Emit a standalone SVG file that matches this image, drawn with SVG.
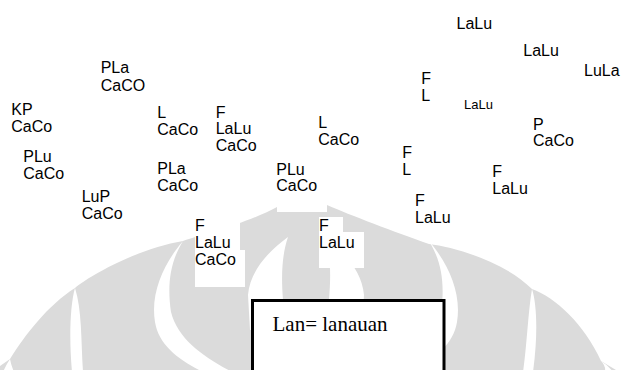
<svg xmlns="http://www.w3.org/2000/svg" width="621" height="370" viewBox="0 0 621 370">
  <style>
    .lbl { font-family: "Liberation Sans", Arial, sans-serif; font-size: 16px; fill: #000; }
    .sm { font-size: 13px; }
    .wm { fill: #dbdbdb; }
    .gap { fill: #fff; }
    .pad { fill: #fff; }
    .legend { fill: #fff; stroke: #000; stroke-width: 3; }
    .legend-txt { font-family: "Liberation Serif", "Times New Roman", serif; font-size: 21px; fill: #000; }
  </style>
  <rect width="621" height="370" fill="#fff"/>

  <!-- background emblem -->
  <g id="emblem">
    <path class="wm" d="M0,366 L10,359 C25,335 48,305 75,288 C90,275 140,248 183,241 C205,234 250,222 277,207 L300,196 L327,205 C350,215 395,232 429,244 C455,247 505,262 532,289 C555,297 585,325 601,361 L621,373 L621,370 L0,370 Z"/>
    <path class="gap" d="M10,359 Q6,365 3,372 L14,372 Q11,365 10,359 Z"/>
    <path class="gap" d="M75,288 C70,305 69,340 72,372 L83,372 C81,340 82,310 75,288 Z"/>
    <path class="gap" d="M183,241 C165,262 150,292 155,322 C159,347 182,362 207,374 L236,374 C205,358 178,340 171,312 C167,285 170,262 183,241 Z"/>
    <path class="gap" d="M288,237 C270,250 250,270 248,295 L250,330 L284,330 L283,300 C281,275 282,255 288,237 Z"/>
    <path class="gap" d="M324,237 C331,255 331,275 329,300 L328,330 L362,330 L364,295 C362,270 342,250 324,237 Z"/>
    <path class="gap" d="M429,241 C447,262 462,292 457,322 C453,347 430,362 405,374 L376,374 C407,358 434,340 441,312 C445,285 442,262 429,241 Z"/>
    <path class="gap" d="M532,289 C537,305 538,335 533,372 L523,372 C527,345 528,312 532,289 Z"/>
    <path class="gap" d="M601,361 Q606,366 605,372 L613,372 Q609,366 601,361 Z"/>
  </g>

  <!-- label backgrounds -->
  <g id="pads">
    <rect class="pad" x="277" y="160" width="50" height="52"/>
    <rect class="pad" x="195" y="215" width="45" height="72"/>
    <rect class="pad" x="195" y="250" width="50" height="37"/>
    <rect class="pad" x="319" y="217" width="24" height="51"/>
    <rect class="pad" x="319" y="232" width="45" height="36"/>
  </g>

  <g id="connectors"></g>

  <g id="n-lalu-top"><text class="lbl" x="456.5" y="29.3">LaLu</text></g>
  <g id="n-lalu-2"><text class="lbl" x="523.3" y="56">LaLu</text></g>
  <g id="n-lula"><text class="lbl" x="584" y="75.7">LuLa</text></g>
  <g id="n-pla-top"><text class="lbl" x="100.7" y="73.3">PLa</text><text class="lbl" x="100.7" y="90.7">CaCO</text></g>
  <g id="n-kp"><text class="lbl" x="11.3" y="115">KP</text><text class="lbl" x="11.3" y="131.7">CaCo</text></g>
  <g id="n-l-1"><text class="lbl" x="157.3" y="118.3">L</text><text class="lbl" x="157.3" y="135">CaCo</text></g>
  <g id="n-f-1"><text class="lbl" x="215.7" y="117.5">F</text><text class="lbl" x="215.7" y="134">LaLu</text><text class="lbl" x="215.7" y="150.5">CaCo</text></g>
  <g id="n-fl-1"><text class="lbl" x="421.3" y="84">F</text><text class="lbl" x="421.3" y="100.7">L</text></g>
  <g id="n-lalu-sm"><text class="lbl sm" x="464" y="109">LaLu</text></g>
  <g id="n-l-2"><text class="lbl" x="318.3" y="128.3">L</text><text class="lbl" x="318.3" y="145">CaCo</text></g>
  <g id="n-p"><text class="lbl" x="533" y="130">P</text><text class="lbl" x="533" y="146">CaCo</text></g>
  <g id="n-plu-1"><text class="lbl" x="23.3" y="162.3">PLu</text><text class="lbl" x="23.3" y="179.3">CaCo</text></g>
  <g id="n-fl-2"><text class="lbl" x="402.3" y="157.7">F</text><text class="lbl" x="402.3" y="175">L</text></g>
  <g id="n-pla-2"><text class="lbl" x="157.3" y="174">PLa</text><text class="lbl" x="157.3" y="190.7">CaCo</text></g>
  <g id="n-plu-2"><text class="lbl" x="276.3" y="174.7">PLu</text><text class="lbl" x="276.3" y="191.2">CaCo</text></g>
  <g id="n-f-2"><text class="lbl" x="492.3" y="177.3">F</text><text class="lbl" x="492.3" y="194.3">LaLu</text></g>
  <g id="n-lup"><text class="lbl" x="81.7" y="202.3">LuP</text><text class="lbl" x="81.7" y="219">CaCo</text></g>
  <g id="n-f-3"><text class="lbl" x="415" y="205.7">F</text><text class="lbl" x="415" y="222.7">LaLu</text></g>
  <g id="n-f-4"><text class="lbl" x="195" y="230.7">F</text><text class="lbl" x="195" y="247.7">LaLu</text><text class="lbl" x="195" y="265">CaCo</text></g>
  <g id="n-f-5"><text class="lbl" x="319" y="230.7">F</text><text class="lbl" x="319" y="247.7">LaLu</text></g>

  <!-- legend box -->
  <g id="legend">
    <rect class="legend" x="252.5" y="300.5" width="191.5" height="90"/>
    <text class="legend-txt" x="272.5" y="331">Lan= lanauan</text>
  </g>
</svg>
